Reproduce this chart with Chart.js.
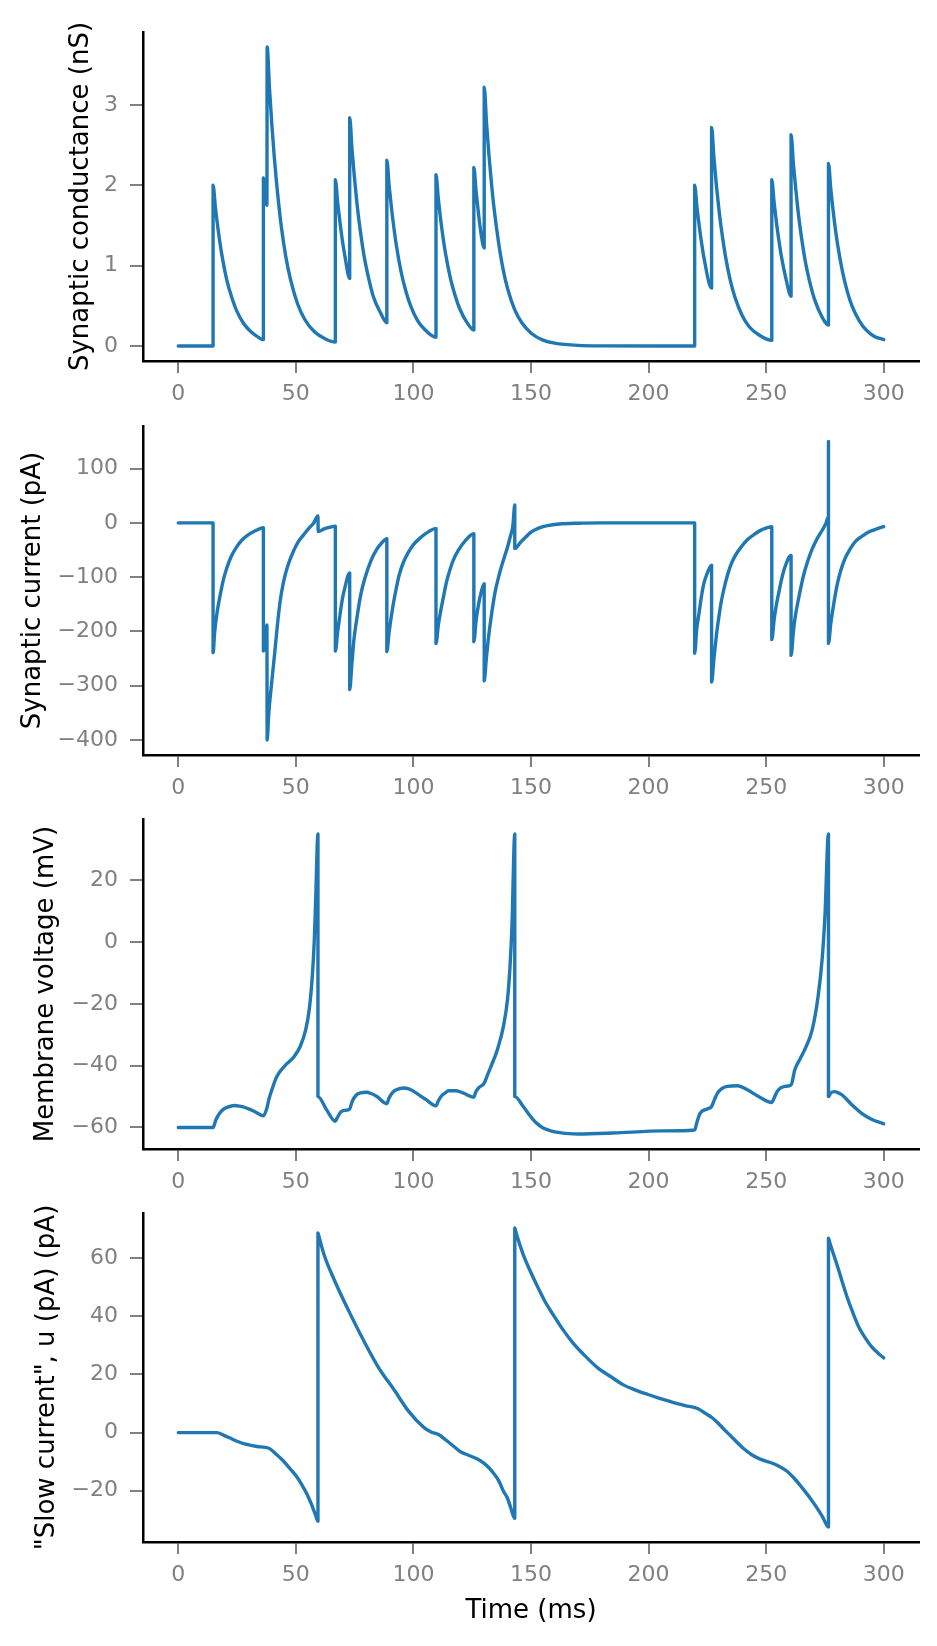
<!DOCTYPE html>
<html>
<head>
<meta charset="utf-8">
<script src="https://cdn.jsdelivr.net/npm/chart.js@4.4.1/dist/chart.umd.min.js"></script>
<style>
html, body { margin: 0; padding: 0; background: #fff; }
#wrap { position: relative; width: 937px; height: 1646px; }
canvas { position: absolute; left: 0; }
</style>
</head>
<body>
<div id="wrap">
  <canvas id="cond-chart" width="937" height="409" style="top:0px"></canvas>
  <canvas id="curr-chart" width="937" height="394" style="top:409px"></canvas>
  <canvas id="volt-chart" width="937" height="394" style="top:803px"></canvas>
  <canvas id="slow-chart" width="937" height="449" style="top:1197px"></canvas>
</div>
<script>
// time axis (ms)
const xTicks = [0, 50, 100, 150, 200, 250, 300];

// synaptic conductance (nS)
const gTime = [0, 14.8, 14.8, 15.8, 16.8, 17.8, 18.8, 20.8, 22.8, 24.8, 27.8, 30.8, 33.5, 36.2,
  36.2, 37.7, 37.8, 38.8, 39.8, 40.8, 41.8, 43.8, 45.8, 47.8, 50.8, 53.8, 57.8, 62.8, 66.8,
  66.8, 67.8, 68.8, 69.8, 70.8, 72.9,
  72.9, 73.9, 74.9, 75.9, 76.9, 78.9, 80.9, 82.9, 85.9, 88.7,
  88.7, 89.7, 90.7, 91.7, 92.7, 94.7, 96.7, 98.7, 101.7, 104.7, 109.6,
  109.6, 110.6, 111.6, 112.6, 113.6, 115.6, 117.6, 119.6, 122.6, 125.7,
  125.7, 126.7, 127.7, 128.7, 130.1,
  130.1, 131.1, 132.1, 133.1, 134.1, 136.1, 138.1, 140.1, 143.1, 146.1, 150.1, 155.1, 160, 170, 180, 219.6,
  219.6, 220.6, 221.6, 222.6, 223.6, 226.8,
  226.8, 227.8, 228.8, 229.8, 230.8, 232.8, 234.8, 236.8, 239.8, 242.8, 246.8, 252.4,
  252.4, 253.4, 254.4, 255.4, 256.4, 258.4, 260.6,
  260.6, 261.6, 262.6, 263.6, 264.6, 266.6, 268.6, 270.6, 273.6, 276.5,
  276.5, 277.5, 278.5, 279.5, 280.5, 282.5, 284.5, 286.5, 289.5, 292.5, 296, 300];
const gVal = [0, 0, 2.0, 1.72, 1.48, 1.27, 1.09, 0.80, 0.60, 0.44, 0.28, 0.18, 0.12, 0.08,
  2.09, 1.75, 3.72, 3.2, 2.75, 2.36, 2.03, 1.49, 1.1, 0.82, 0.52, 0.33, 0.18, 0.085, 0.05,
  2.07, 1.78, 1.53, 1.31, 1.13, 0.84,
  2.84, 2.44, 2.1, 1.80, 1.55, 1.14, 0.85, 0.62, 0.42, 0.29,
  2.31, 1.99, 1.71, 1.47, 1.26, 0.93, 0.69, 0.51, 0.32, 0.21, 0.11,
  2.13, 1.83, 1.57, 1.35, 1.16, 0.86, 0.64, 0.47, 0.30, 0.20,
  2.22, 1.91, 1.64, 1.41, 1.22,
  3.22, 2.77, 2.38, 2.05, 1.76, 1.31, 0.96, 0.71, 0.45, 0.29, 0.16, 0.073, 0.037, 0.008, 0.002, 0,
  2.0, 1.72, 1.48, 1.27, 1.09, 0.72,
  2.72, 2.34, 2.01, 1.73, 1.49, 1.10, 0.81, 0.60, 0.38, 0.24, 0.14, 0.07,
  2.07, 1.78, 1.53, 1.32, 1.13, 0.84, 0.62,
  2.63, 2.26, 1.95, 1.67, 1.44, 1.06, 0.79, 0.58, 0.37, 0.26,
  2.27, 1.95, 1.68, 1.44, 1.24, 0.92, 0.68, 0.50, 0.32, 0.20, 0.12, 0.08];
const gTicks = [0, 1, 2, 3];

// synaptic current (pA)
const iTime = [0, 14.8, 14.8, 15.5, 16.5, 17.6, 19, 20.5, 22.5, 24.7, 27, 30, 33, 36.2,
  36.2, 37.7, 37.8, 38.5, 39.7, 41, 42, 43.3, 44.7, 46.5, 49, 51, 53.3, 55.5, 57.6, 59.4,
  59.5, 62, 64.5, 66.8,
  66.8, 67.8, 68.8, 69.8, 70.8, 72.9,
  72.9, 73.8, 74.7, 75.8, 77.6, 79.5, 81.9, 84.5, 86.5, 88.7,
  88.7, 89.7, 91.1, 92.5, 94, 95.8, 97.6, 100, 103.3, 106.5, 109.6,
  109.6, 110.6, 111.6, 112.6, 114, 115.4, 117, 119, 122, 125.7,
  125.7, 126.7, 127.7, 128.8, 130.1,
  130.1, 131, 131.9, 133, 134.7, 136.5, 138.3, 140, 141.2, 142.3, 143.1,
  143.1, 145.5, 148, 150, 153, 157, 162, 170, 180, 219.6,
  219.6, 220.5, 221.5, 222.5, 223.5, 225, 226.8,
  226.8, 227.8, 228.9, 230, 231, 232.7, 234.6, 236.5, 238.9, 242, 245.3, 248.5, 252.4,
  252.4, 253.4, 254.3, 255.3, 256.6, 258.1, 260.6,
  260.6, 261.6, 262.4, 263.4, 264.6, 266, 267.7, 269.6, 271.8, 273.9, 275.5, 276.5,
  276.5, 276.5, 277.5, 278.9, 280.3, 281.7, 283.5, 285.3, 288, 291, 294, 297, 300];
const iVal = [0, 0, -239, -200, -165, -138, -108, -85, -62, -45, -32, -21, -14, -9,
  -236, -188, -400, -350, -295, -240, -195, -145, -110, -80, -52, -35, -22, -10, 0, 13,
  -16, -11, -8, -6,
  -236, -200, -168, -140, -120, -92,
  -307, -262, -215, -180, -132, -100, -70, -48, -37, -29,
  -237, -200, -158, -125, -95, -72, -56, -40, -26, -16, -10,
  -222, -188, -162, -140, -110, -88, -68, -51, -33, -20,
  -219, -178, -150, -128, -112,
  -291, -250, -212, -175, -128, -95, -68, -45, -25, -5, 33,
  -47, -36, -25, -17, -10, -5, -2, -0.5, 0, 0,
  -240, -195, -165, -135, -112, -92, -78,
  -293, -250, -205, -170, -143, -110, -82, -63, -47, -31, -20, -12, -7,
  -215, -178, -152, -130, -103, -80, -60,
  -244, -200, -172, -148, -122, -95, -70, -48, -28, -13, 0, 12,
  150, -222, -185, -145, -112, -88, -66, -51, -34, -24, -16, -11, -7];
const iTicks = [-400, -300, -200, -100, 0, 100];

// membrane voltage (mV)
const vTime = [0, 14.8, 16, 17.6, 19, 20.7, 23.9, 26, 28.2, 32.4, 36.2, 37.7, 38.5, 39.8, 41.9, 45.1, 49.3, 51.9, 54.2, 55.7, 57, 57.8, 58.4, 59.4,
  59.4, 63.1, 66.8, 67.5, 69.4, 72.2, 72.9, 74, 75.8, 77.5, 80, 82, 84.3, 88.7,
  89.6, 91, 92.7, 95.9, 98, 100.1, 105.4, 109.6,
  110.5, 111.8, 113.5, 115, 118.1, 121.3, 125.7,
  126.5, 127.7, 130.1, 131.5, 133, 135.7, 138.3, 140, 141, 141.9, 143.1,
  143.1, 146.7, 149, 151, 153, 155.2, 158, 161.5, 166, 170, 184.8, 206, 219.6,
  220.5, 221.9, 225, 226.8, 228, 229.3, 231, 233.5, 237.8, 242, 247.3, 252.4,
  253.5, 254.7, 257.9, 260.6, 262.2, 264.3, 266.4, 269.6, 272.1, 273.8, 275, 276.5,
  276.5, 277.5, 279, 280.5, 282.2, 286.4, 290.6, 294.8, 300];
const vVal = [-60, -60, -57.5, -55.4, -54.2, -53.5, -52.9, -53.1, -53.5, -54.8, -56.2, -53.7, -51, -47.8, -43.5, -40.2, -37, -33.7, -28.3, -21.8, -11, -0.2, 12.8, 35,
  -50, -54.3, -58, -57, -54.8, -54.3, -54, -51.5, -49.4, -48.8, -48.6, -49, -49.9, -52.3,
  -50.5, -48.8, -47.8, -47.2, -47.5, -48.3, -51, -53,
  -51.5, -49.9, -48.8, -48.1, -48.1, -48.9, -50.2,
  -48.5, -47.2, -45.6, -43, -40.2, -34.8, -27.2, -18.6, -8.9, 5.2, 35,
  -50, -53.2, -55.6, -57.5, -59, -60.2, -61, -61.6, -62, -62.1, -61.8, -61.1, -60.8,
  -58.5, -55.4, -54, -53.2, -51, -48.9, -47.5, -46.7, -46.5, -47.8, -50.2, -51.9,
  -50.3, -48.3, -46.7, -46.2, -41.3, -38, -34.8, -28.3, -17.5, -5.6, 8.4, 35,
  -50, -48.8, -48.4, -48.7, -49.4, -52.6, -55.4, -57.3, -58.8];
const vTicks = [-60, -40, -20, 0, 20];

// slow current u (pA)
const uTime = [0, 16.5, 19, 21.8, 25, 28.2, 33.5, 38.3, 41.9, 44.5, 47.2, 50, 52.5, 54.8, 56.7, 58.2, 59.4,
  59.4, 59.9, 62, 66.3, 72.6, 79, 85.3, 91.7, 98, 104.4, 107.5, 110.7, 114, 117.1, 120, 123.4, 127, 129.8, 132, 134, 136.3, 138.3, 140, 141.4, 143.1,
  143.1, 143.6, 146.7, 150, 153.1, 156, 159.4, 163.5, 167.9, 173, 178.5, 184, 189.1, 194.5, 199.7, 205, 210.2, 215.5, 220.8, 224, 227.2,
  231.5, 235.7, 240, 244.2, 248, 251.5, 255, 258.9, 262, 265.3, 268.5, 271.6, 274, 276.5,
  276.5, 277, 280.1, 284.3, 287, 289.6, 292.2, 294.8, 297.5, 300];
const uVal = [0, 0, -0.8, -1.8, -3, -3.9, -4.8, -5.3, -7.6, -9.6, -12.1, -14.8, -17.9, -21.3, -24.8, -28, -30.5,
  68.7, 67.2, 61.2, 52.6, 41.7, 31.4, 22.2, 14.8, 7.3, 1.8, 0.2, -0.7, -2.7, -4.7, -6.6, -7.8, -9, -10.4, -12, -13.9, -16.6, -20.2, -22.6, -25.9, -29.5,
  70.4, 68.9, 61.2, 55, 49.7, 45, 40.6, 35.5, 30.8, 26.4, 22.2, 19.2, 16.5, 14.6, 13.1, 11.7, 10.4, 9.3, 8.3, 6.7, 5,
  1.6, -1.8, -5.2, -7.8, -9.3, -10.2, -11.4, -13.3, -15.8, -19, -22.3, -25.9, -29, -32.5,
  66.9, 65.5, 57.8, 46.9, 41, 36, 32.5, 29.6, 27.4, 25.7];
const uTicks = [-20, 0, 20, 40, 60];

const FONT = 'DejaVu Sans';
const GREY = '#808080';

function fmt(v) {
    return v < 0 ? '\u2212' + Math.abs(v) : String(v);
}

function drawPanel(id, times, values, yTicks, yRange, label, layout) {
    const ctx = document.getElementById(id).getContext('2d');
    const points = times.map((t, i) => ({ x: t, y: values[i] }));
    const config = {
        type: 'line',
        data: {
            datasets: [{
                data: points,
                borderColor: '#1f77b4',
                borderWidth: 3.4,
                pointRadius: 0,
                cubicInterpolationMode: 'monotone',
                fill: false,
                borderJoinStyle: 'round',
                borderCapStyle: 'round'
            }]
        },
        options: {
            responsive: false,
            animation: false,
            devicePixelRatio: 1,
            events: [],
            layout: { padding: { top: layout.top, left: 0, right: 18, bottom: 0 } },
            plugins: { legend: { display: false }, tooltip: { enabled: false } },
            scales: {
                x: {
                    type: 'linear',
                    bounds: 'data',
                    min: -15,
                    max: 315,
                    afterBuildTicks: s => { s.ticks = xTicks.map(v => ({ value: v })); },
                    afterFit: s => { s.height = layout.xHeight; s.paddingLeft = 0; s.paddingRight = 0; },
                    grid: { drawOnChartArea: false, drawTicks: true, tickLength: 12, lineWidth: 2, tickWidth: 2, color: GREY, tickColor: GREY },
                    border: { display: true, color: '#000', width: 2.5 },
                    ticks: { color: GREY, font: { family: FONT, size: 22 }, padding: 8, autoSkip: false, maxRotation: 0, callback: v => fmt(v) },
                    title: {
                        display: !!layout.xTitle,
                        text: layout.xTitle || '',
                        color: '#000',
                        font: { family: FONT, size: 26 },
                        padding: { top: 0, bottom: 19 }
                    }
                },
                y: {
                    type: 'linear',
                    bounds: 'data',
                    min: yRange[0],
                    max: yRange[1],
                    afterBuildTicks: s => { s.ticks = yTicks.map(v => ({ value: v })); },
                    afterFit: s => { s.width = 143; s.paddingTop = 0; s.paddingBottom = 0; },
                    grid: { drawOnChartArea: false, drawTicks: true, tickLength: 13, lineWidth: 2, tickWidth: 2, color: GREY, tickColor: GREY },
                    border: { display: true, color: '#000', width: 2.5 },
                    ticks: { color: GREY, font: { family: FONT, size: 22 }, padding: 12, autoSkip: false, callback: v => fmt(v) },
                    title: {
                        display: true,
                        text: label,
                        color: '#000',
                        font: { family: FONT, size: 26 },
                        padding: { top: layout.titlePad, bottom: 0 }
                    }
                }
            }
        }
    };
    return new Chart(ctx, config);
}

drawPanel('cond-chart', gTime, gVal, gTicks, [-0.186, 3.906], 'Synaptic conductance (nS)',
    { top: 32, xHeight: 48, titlePad: 66 });
drawPanel('curr-chart', iTime, iVal, iTicks, [-427.5, 178.5], 'Synaptic current (pA)',
    { top: 17, xHeight: 48, titlePad: 18 });
drawPanel('volt-chart', vTime, vVal, vTicks, [-66.96, 39.86], 'Membrane voltage (mV)',
    { top: 16, xHeight: 48, titlePad: 31 });
drawPanel('slow-chart', uTime, uVal, uTicks, [-37.65, 75.55], '"Slow current", u (pA) (pA)',
    { top: 16, xHeight: 104, titlePad: 32, xTitle: 'Time (ms)' });
</script>
</body>
</html>
